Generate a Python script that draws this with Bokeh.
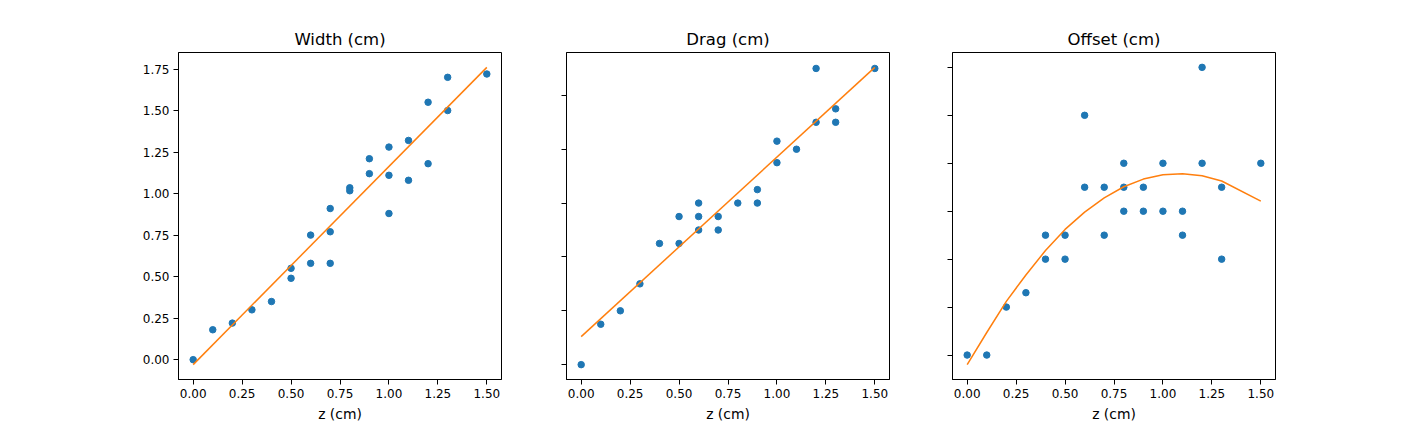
from bokeh.plotting import figure
from bokeh.layouts import row
from bokeh.models import Range1d, FixedTicker, NumeralTickFormatter
from bokeh.embed import file_html
from bokeh.resources import INLINE

# ---------------- data ----------------
x_ticks = [0.0, 0.25, 0.5, 0.75, 1.0, 1.25, 1.5]

z_width = [0.0, 0.1, 0.2, 0.3, 0.4, 0.5, 0.5, 0.6, 0.6, 0.7, 0.7, 0.7, 0.8, 0.8,
           0.9, 0.9, 1.0, 1.0, 1.0, 1.1, 1.1, 1.2, 1.2, 1.3, 1.3, 1.5]
width_cm = [0.00, 0.18, 0.22, 0.30, 0.35, 0.55, 0.49, 0.75, 0.58, 0.91, 0.77, 0.58, 1.035, 1.017,
            1.21, 1.12, 1.28, 1.11, 0.88, 1.32, 1.08, 1.55, 1.18, 1.70, 1.50, 1.72]
fit_width_z = [0.0, 1.5]
fit_width = [-0.03, 1.76]
width_ticks = [0.0, 0.25, 0.5, 0.75, 1.0, 1.25, 1.5, 1.75]

z_drag = [0.0, 0.1, 0.2, 0.3, 0.4, 0.5, 0.5, 0.6, 0.6, 0.6, 0.7, 0.7, 0.8, 0.9, 0.9,
          1.0, 1.0, 1.1, 1.2, 1.2, 1.3, 1.3, 1.5]
drag_cm = [0.0, 1.5, 2.0, 3.0, 4.5, 5.5, 4.5, 6.0, 5.5, 5.0, 5.5, 5.0, 6.0, 6.5, 6.0,
           8.3, 7.5, 8.0, 11.0, 9.0, 9.5, 9.0, 11.0]
fit_drag_z = [0.0, 1.5]
fit_drag = [1.04, 11.04]
drag_ticks = [0, 2, 4, 6, 8, 10]

z_offset = [0.0, 0.1, 0.2, 0.3, 0.4, 0.4, 0.5, 0.5, 0.6, 0.6, 0.7, 0.7, 0.8, 0.8, 0.8,
            0.9, 0.9, 1.0, 1.0, 1.1, 1.1, 1.2, 1.2, 1.3, 1.3, 1.5]
offset_cm = [0.0, 0.0, 1.0, 1.3, 2.5, 2.0, 2.5, 2.0, 5.0, 3.5, 3.5, 2.5, 4.0, 3.5, 3.0,
             3.5, 3.0, 4.0, 3.0, 3.0, 2.5, 6.0, 4.0, 3.5, 2.0, 4.0]
fit_offset_z = [0.0, 0.1, 0.2, 0.3, 0.4, 0.5, 0.6, 0.7, 0.8, 0.9, 1.0, 1.1, 1.2, 1.3, 1.5]
fit_offset = [-0.20, 0.47, 1.12, 1.67, 2.18, 2.62, 2.98, 3.28, 3.51, 3.67, 3.76, 3.78, 3.74, 3.63, 3.21]
offset_ticks = [0, 1, 2, 3, 4, 5, 6]

BLUE = "#1f77b4"
ORANGE = "#ff7f0e"
FONT = "DejaVu Sans"


def padded(vals, frac=0.05):
    lo, hi = min(vals), max(vals)
    d = (hi - lo) * frac
    return Range1d(lo - d, hi + d)


def make_panel(title, zs, ys, fz, fy, yticks, show_labels, bl, br):
    p = figure(
        frame_width=323, frame_height=327,
        x_range=padded(zs + fz), y_range=padded(ys + fy),
        output_backend="svg", toolbar_location=None,
        min_border_left=bl, min_border_right=br,
        min_border_top=52, min_border_bottom=42,
        background_fill_color="white", border_fill_color="white",
    )
    p.title.text = title
    p.title.align = "center"
    p.title.text_font = FONT
    p.title.text_font_size = "16.5px"
    p.title.text_font_style = "normal"
    p.title.text_color = "black"
    p.title.standoff = 7

    p.grid.visible = False
    p.outline_line_color = "black"
    p.outline_line_width = 1
    p.outline_line_alpha = 1

    for ax in (p.xaxis[0], p.yaxis[0]):
        ax.axis_line_color = "black"
        ax.major_tick_line_color = "black"
        ax.major_tick_out = 5
        ax.major_tick_in = 0
        ax.minor_tick_line_color = None
        ax.major_label_text_font = FONT
        ax.major_label_text_font_size = "12px"
        ax.major_label_text_color = "black"
        ax.major_label_standoff = 4

    p.xaxis.ticker = FixedTicker(ticks=x_ticks)
    p.xaxis.formatter = NumeralTickFormatter(format="0.00")
    p.xaxis.axis_label = "z (cm)"
    p.xaxis.axis_label_text_font = FONT
    p.xaxis.axis_label_text_font_size = "13.9px"
    p.xaxis.axis_label_text_font_style = "normal"
    p.xaxis.axis_label_text_color = "black"
    p.xaxis.axis_label_standoff = 5

    p.yaxis.ticker = FixedTicker(ticks=yticks)
    if show_labels:
        p.yaxis.formatter = NumeralTickFormatter(format="0.00")
    else:
        p.yaxis.major_label_overrides = {t: "" for t in yticks}

    p.scatter(zs, ys, size=6.5, color=BLUE, line_color=BLUE)
    p.line(fz, fy, line_color=ORANGE, line_width=1.5)
    return p


p1 = make_panel("Width (cm)", z_width, width_cm, fit_width_z, fit_width,
                width_ticks, True, 178, 30)
p2 = make_panel("Drag (cm)", z_drag, drag_cm, fit_drag_z, fit_drag,
                drag_ticks, False, 35, 28)
p3 = make_panel("Offset (cm)", z_offset, offset_cm, fit_offset_z, fit_offset,
                offset_ticks, False, 35, 20)

layout = row(p1, p2, p3)
open("out.html", "w").write(file_html(layout, INLINE))
